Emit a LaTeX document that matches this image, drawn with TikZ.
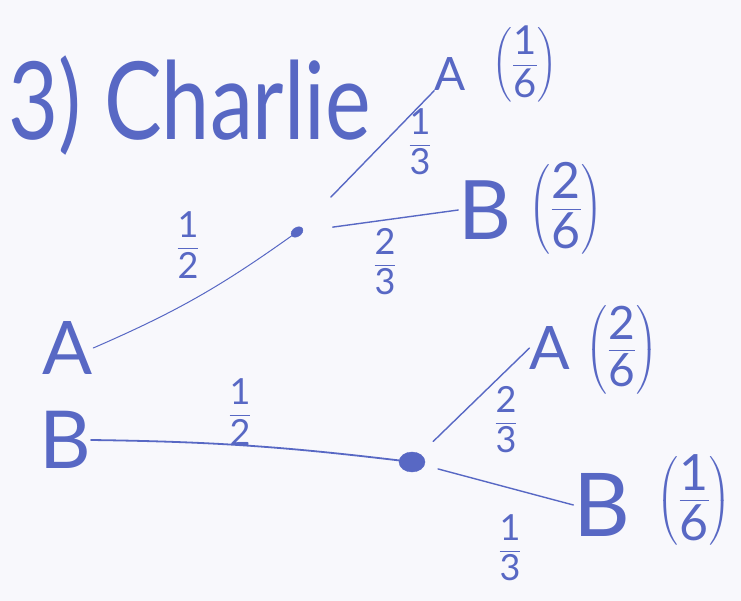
\documentclass[tikz,border=0pt]{standalone}
\usepackage{fontspec}
\usepackage{amsmath}
\setmainfont{Lato}
\usetikzlibrary{shapes.geometric}
\definecolor{ink}{RGB}{88,104,196}
\definecolor{paper}{RGB}{248,248,252}
\newcommand\myfr[2]{\ensuremath{\genfrac{}{}{}{0}{\text{#1}}{\text{#2}}}}
\newcommand\mypfr[2]{\ensuremath{\left(\genfrac{}{}{}{0}{\text{#1}}{\text{#2}}\right)}}
\begin{document}
\begin{tikzpicture}[x=1pt,y=-1pt,
  every node/.style={text=ink, inner sep=0pt},
  br/.style={draw=ink, line width=1.4pt, line cap=round},
  lab/.style={font=\fontsize{36}{36}\selectfont},
  dot/.style={ellipse, fill=ink, draw=ink}]
\fill[paper] (0,0) rectangle (741,601);
\useasboundingbox (0,0) rectangle (741,601);
\node[font=\fontsize{108}{108}\selectfont] (title) at (190,106) {\scalebox{0.8}[1]{3) Charlie}};
\node[font=\fontsize{74}{74}\selectfont] (ra) at (68,348) {A};
\node[font=\fontsize{80}{80}\selectfont] (rb) at (65,440) {B};
\node[dot, minimum width=13pt, minimum height=9pt, rotate=35] (d1) at (297,232) {};
\node[dot, minimum width=26pt, minimum height=20pt] (d2) at (412,462) {};
\node[font=\fontsize{46}{46}\selectfont] (a1) at (450,74) {A};
\node[font=\fontsize{82}{82}\selectfont] (b1) at (485,210) {B};
\node[font=\fontsize{40}{40}\selectfont] (pa1) at (525,64) {\mypfr{1}{6}};
\node[font=\fontsize{50}{50}\selectfont] (pb1) at (566,208) {\mypfr{2}{6}};
\node[font=\fontsize{46}{46}\selectfont] (pa2) at (622,350) {\mypfr{2}{6}};
\node[font=\fontsize{50}{50}\selectfont] (pb2) at (694,500) {\mypfr{1}{6}};
\node[font=\fontsize{60}{60}\selectfont] (a2) at (550,348) {A};
\node[font=\fontsize{88}{88}\selectfont] (b2) at (602,505) {B};
\node[lab] (l1) at (188,245) {\myfr{1}{2}};
\node[lab] (l2) at (420,142) {\myfr{1}{3}};
\node[lab] (l3) at (385,262) {\myfr{2}{3}};
\node[lab] (l4) at (240,412) {\myfr{1}{2}};
\node[lab] (l5) at (506,420) {\myfr{2}{3}};
\node[lab] (l6) at (510,548) {\myfr{1}{3}};
\draw[br, line width=1pt] (ra.east) to[bend right=6] (d1);
\draw[br, shorten <=42pt] (d1) -- (a1.south west);
\draw[br, shorten <=30pt] (d1) -- (b1.west);
\draw[br, line width=1.8pt] (rb.east) to[bend left=3] (d2);
\draw[br, shorten <=18pt] (d2) -- (a2.west);
\draw[br, shorten <=14pt] (d2) -- (b2.west);
\end{tikzpicture}
\end{document}
